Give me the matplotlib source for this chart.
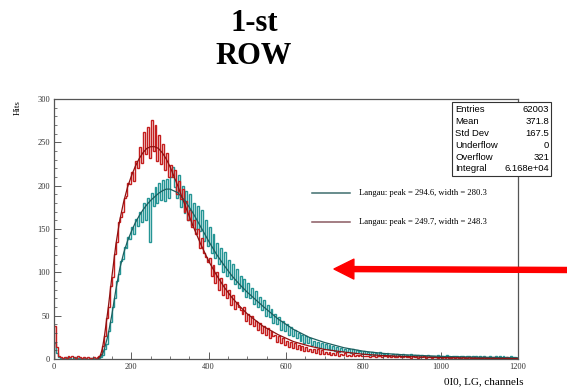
import numpy as np
import matplotlib
matplotlib.use("Agg")
import matplotlib.pyplot as plt
from matplotlib.ticker import MultipleLocator
from matplotlib.patches import Rectangle
from matplotlib.lines import Line2D

# ---------------- data ----------------
bin_width = 5
x_max = 1200

red_counts = [
    38, 14, 4, 2, 1, 2, 1, 3, 2, 4, 2, 1, 3, 2, 1, 2, 1, 2, 1, 1,
    2, 1, 2, 3, 6, 15, 27, 47, 60, 84, 95, 121, 135, 158, 164, 170, 186, 188, 203, 202,
    216, 205, 229, 220, 245, 226, 262, 236, 268, 232, 276, 240, 270, 229, 258, 225, 248, 218, 238, 210,
    224, 210, 218, 190, 205, 185, 196, 170, 182, 160, 172, 152, 160, 144, 150, 128, 140, 122, 118, 112,
    116, 96, 108, 88, 100, 80, 94, 74, 86, 70, 80, 62, 74, 58, 66, 60, 56, 52, 60, 44,
    52, 40, 50, 38, 44, 34, 42, 30, 38, 28, 36, 24, 32, 26, 28, 20, 26, 18, 24, 16,
    21, 14, 20, 13, 18, 12, 16, 10, 15, 9, 14, 9, 12, 8, 11, 7, 11, 6, 10, 6,
    8, 6, 8, 5, 7, 5, 8, 4, 6, 5, 7, 4, 5, 3, 6, 4, 5, 3, 5, 3,
    4, 3, 4, 2, 3, 4, 2, 3, 4, 2, 3, 4, 2, 3, 2, 3, 2, 2, 3, 2,
    2, 3, 2, 2, 1, 3, 2, 2, 1, 2, 2, 3, 1, 2, 2, 1, 2, 2, 1, 2,
    1, 2, 1, 2, 1, 1, 2, 1, 2, 1, 1, 2, 1, 1, 2, 1, 1, 2, 1, 1,
    1, 1, 2, 1, 1, 0, 1, 2, 1, 1, 1, 0, 1, 1, 2, 1, 1, 0, 1, 1,
]

teal_counts = [
    18, 7, 2, 1, 0, 1, 2, 1, 1, 0, 1, 2, 1, 1, 0, 1, 1, 0, 1, 1,
    1, 0, 1, 1, 2, 5, 11, 17, 32, 43, 60, 70, 90, 98, 113, 115, 129, 128, 141, 138,
    152, 144, 162, 153, 170, 158, 180, 160, 186, 135, 192, 176, 198, 180, 203, 184, 206, 182, 208, 186,
    210, 222, 198, 186, 212, 175, 200, 168, 194, 160, 190, 155, 180, 150, 176, 148, 172, 136, 160, 130,
    152, 122, 144, 116, 134, 110, 128, 100, 124, 96, 114, 92, 110, 86, 104, 82, 96, 78, 92, 72,
    88, 70, 82, 64, 78, 60, 72, 56, 68, 50, 62, 48, 58, 42, 52, 40, 48, 34, 44, 32,
    40, 28, 37, 26, 34, 24, 30, 21, 28, 19, 26, 18, 24, 16, 21, 14, 20, 13, 18, 12,
    17, 11, 16, 10, 15, 9, 14, 8, 13, 9, 12, 8, 12, 7, 11, 7, 10, 8, 9, 6,
    9, 6, 8, 5, 8, 5, 7, 4, 8, 5, 6, 5, 7, 4, 5, 6, 4, 6, 5, 4,
    6, 3, 5, 4, 6, 3, 5, 4, 5, 2, 5, 4, 3, 5, 4, 3, 4, 2, 5, 3,
    4, 2, 3, 5, 3, 2, 4, 3, 3, 2, 4, 3, 2, 3, 4, 2, 3, 2, 3, 2,
    3, 2, 4, 2, 2, 3, 2, 1, 3, 2, 3, 1, 3, 2, 2, 1, 3, 2, 2, 1,
]

fit_x = [115, 120, 125, 130, 140, 150, 160, 170, 180, 190, 200, 210, 220, 230, 240, 250,
         260, 270, 280, 290, 300, 320, 340, 360, 380, 400, 420, 440, 460, 480, 500, 540,
         580, 620, 660, 700, 750, 800, 850, 900, 1000, 1100, 1200]
red_fit = [1, 4, 12, 25, 58, 96, 132, 160, 181, 198, 211, 222, 231, 238, 243, 245,
           245, 243, 238, 231, 222, 200, 176, 153, 132, 113, 97, 83, 71, 61, 52, 38,
           28, 20, 15, 11, 8, 5.5, 4, 3, 1.6, 0.9, 0.5]
teal_fit = [0.5, 2, 5, 11, 28, 52, 80, 104, 122, 136, 147, 157, 165, 172, 178, 183,
            187, 191, 194, 196, 196, 192, 182, 168, 152, 136, 121, 108, 96, 86, 77, 61,
            46, 34, 25, 19, 13, 9, 6.5, 5, 3, 2, 1.3]

stats_labels = ["Entries", "Mean", "Std Dev", "Underflow", "Overflow", "Integral"]
stats_values = ["62003", "371.8", "167.5", "0", "321", "6.168e+04"]
legend_texts = ["Langau: peak = 294.6, width = 280.3",
                "Langau: peak = 249.7, width = 248.3"]

# ---------------- figure ----------------
W, H = 567, 387
fig = plt.figure(figsize=(W / 100, H / 100), dpi=100)
serif = "Liberation Serif"
sans = "Liberation Sans"

ax = fig.add_axes([54 / W, 1 - 359 / H, (518 - 54) / W, (359 - 99) / H])
edges = np.arange(0, x_max + bin_width, bin_width)

ax.stairs(teal_counts, edges, color="#259595", lw=1.0)
ax.stairs(red_counts, edges, color="#c41e1e", lw=1.0)
ax.plot(fit_x, teal_fit, color="#1d5f5f", lw=0.9)
ax.plot(fit_x, red_fit, color="#8e1010", lw=0.9)

ax.set_xlim(0, 1200)
ax.set_ylim(0, 300)
ax.xaxis.set_major_locator(MultipleLocator(200))
ax.xaxis.set_minor_locator(MultipleLocator(50))
ax.yaxis.set_major_locator(MultipleLocator(50))
ax.yaxis.set_minor_locator(MultipleLocator(10))
ax.tick_params(which="major", direction="in", length=5, width=0.6, labelsize=6,
               colors="#444444", labelcolor="#333333", pad=3)
ax.tick_params(which="minor", direction="in", length=2.5, width=0.5, colors="#444444")
for lab in ax.get_xticklabels() + ax.get_yticklabels():
    lab.set_fontfamily(serif)
for sp in ax.spines.values():
    sp.set_color("#555555")
    sp.set_linewidth(0.9)

# title
fig.text(254 / W, 1 - 40 / H, "1-st\nROW", ha="center", va="center", fontsize=22,
         fontweight="bold", family=serif, linespacing=1.15)

# axis labels
fig.text(18 / W, 1 - 108 / H, "Hits", rotation=90, ha="center", va="center",
         fontsize=6.5, family=serif)
fig.text(523 / W, 1 - 382 / H, "0I0, LG, channels", ha="right", va="center",
         fontsize=8, family=serif)

# stats box
bx0, bx1, by0, by1 = 452, 551, 102, 176
fig.add_artist(Rectangle((bx0 / W, 1 - by1 / H), (bx1 - bx0) / W, (by1 - by0) / H,
                         transform=fig.transFigure, facecolor="white",
                         edgecolor="#333333", lw=0.8, zorder=5))
for i, (lab, val) in enumerate(zip(stats_labels, stats_values)):
    yy = 1 - (109 + 12 * i) / H
    fig.text(455 / W, yy, lab, ha="left", va="center", fontsize=6.8, family=sans, zorder=6)
    fig.text(549 / W, yy, val, ha="right", va="center", fontsize=6.8, family=sans, zorder=6)

# legend entries
for yy, col, txt in zip([193, 222], ["#3f6e6e", "#8a5a62"], legend_texts):
    fig.add_artist(Line2D([312 / W, 350 / W], [1 - yy / H, 1 - yy / H],
                          transform=fig.transFigure, color=col, lw=1.1))
    fig.text(359 / W, 1 - yy / H, txt, ha="left", va="center", fontsize=6.2, family=serif)

# red arrow
ax.annotate("", xy=(334, H - 269), xytext=(567, H - 270), xycoords="figure pixels",
            textcoords="figure pixels",
            arrowprops=dict(arrowstyle="simple,head_length=1.1,head_width=1.1,tail_width=0.28",
                            mutation_scale=13, color="#ff0000", shrinkA=0, shrinkB=0),
            annotation_clip=False)

fig.savefig("out.png", dpi=100)
